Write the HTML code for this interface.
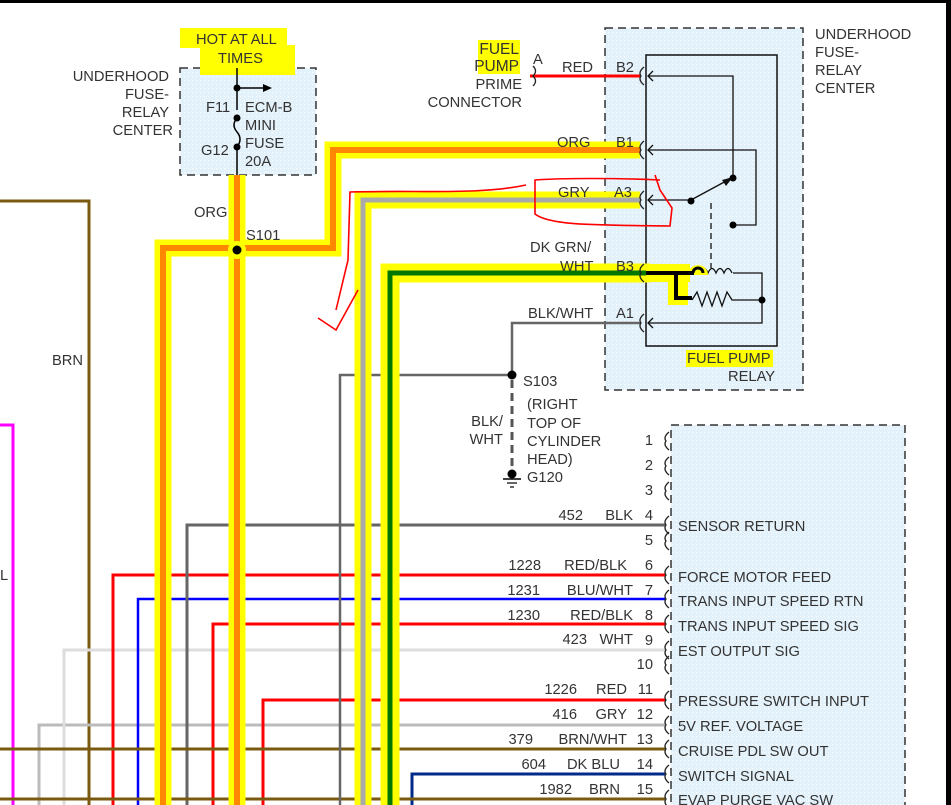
<!DOCTYPE html>
<html><head><meta charset="utf-8"><style>
html,body{margin:0;padding:0;background:#fff}
svg{display:block}
text{font-family:"Liberation Sans",sans-serif;font-size:14.7px;fill:#333}
</style></head><body>
<svg width="951" height="805" viewBox="0 0 951 805" xmlns="http://www.w3.org/2000/svg">
<defs>
<pattern id="dots" width="4" height="4" patternUnits="userSpaceOnUse"><rect width="4" height="4" fill="#e3f1fa"/><rect width="1" height="1" fill="#fff"/></pattern>
</defs>
<rect x="0" y="0" width="951" height="3" fill="#000"/>
<rect x="946" y="0" width="5" height="805" fill="#000"/>

<rect x="180" y="68" width="136" height="107" fill="url(#dots)" stroke="#333" stroke-dasharray="8,5" stroke-width="1.5"/>
<rect x="605" y="28" width="198" height="362" fill="url(#dots)" stroke="#333" stroke-dasharray="8,5" stroke-width="1.5"/>
<rect x="671" y="425" width="234" height="390" fill="url(#dots)" stroke="#333" stroke-dasharray="8,5" stroke-width="1.5"/>
<rect x="646" y="55" width="131" height="291" fill="none" stroke="#111" stroke-width="1.5"/>

<rect x="180" y="28" width="107" height="20" fill="#ff0"/>
<rect x="200" y="45" width="95" height="30" fill="#ff0"/>
<rect x="478" y="40" width="42" height="34" fill="#ff0"/>
<rect x="686" y="350" width="87" height="17" fill="#ff0"/>

<polyline points="0,201 89,201 89,805" fill="none" stroke="#7a5a10" stroke-width="3"/>
<polyline points="0,425 13,425 13,805" fill="none" stroke="#f0f" stroke-width="3"/>

<polyline points="39,805 39,725 665,725" fill="none" stroke="#bbb" stroke-width="3"/>
<polyline points="64,805 64,650 665,650" fill="none" stroke="#ddd" stroke-width="3"/>
<polyline points="113,805 113,575 665,575" fill="none" stroke="#f00" stroke-width="3"/>
<polyline points="138,805 138,599 665,599" fill="none" stroke="#00f" stroke-width="2.5"/>
<polyline points="187,805 187,525 665,525" fill="none" stroke="#666" stroke-width="3"/>
<polyline points="213,805 213,624 665,624" fill="none" stroke="#f00" stroke-width="3"/>
<polyline points="263,805 263,700 665,700" fill="none" stroke="#f00" stroke-width="3"/>
<polyline points="0,749 665,749" fill="none" stroke="#7a5a10" stroke-width="3"/>
<polyline points="412,805 412,774 665,774" fill="none" stroke="#002a8a" stroke-width="3"/>
<polyline points="0,799 665,799" fill="none" stroke="#7a5a10" stroke-width="3"/>

<polyline points="340,805 340,375 512,375" fill="none" stroke="#666" stroke-width="2.5"/>
<polyline points="512,375 512,323 640,323" fill="none" stroke="#666" stroke-width="2.5"/>
<line x1="512" y1="380" x2="512" y2="472" stroke="#555" stroke-width="3" stroke-dasharray="8,5"/>
<circle cx="512" cy="375" r="4.5" fill="#000"/>
<circle cx="512" cy="474" r="4.5" fill="#000"/>
<line x1="503" y1="479" x2="521" y2="479" stroke="#000" stroke-width="1.5"/>
<line x1="507" y1="483" x2="517" y2="483" stroke="#000" stroke-width="1.2"/>
<line x1="510" y1="487" x2="514" y2="487" stroke="#000" stroke-width="1.2"/>

<g fill="none" stroke-linejoin="miter">
<polyline points="163,805 163,248 333,248 333,150 640,150" stroke="#ff0" stroke-width="17"/>
<line x1="237" y1="175" x2="237" y2="805" stroke="#ff0" stroke-width="17"/>
<polyline points="363,805 363,200 640,200" stroke="#ff0" stroke-width="17"/>
<polyline points="390,805 390,273 650,273" stroke="#ff0" stroke-width="19"/>
<polyline points="163,805 163,248 333,248 333,150 640,150" stroke="#f80" stroke-width="6"/>
<line x1="237" y1="175" x2="237" y2="805" stroke="#f80" stroke-width="6"/>
<polyline points="363,805 363,200 640,200" stroke="#aaa" stroke-width="5"/>
<polyline points="390,805 390,273 646,273" stroke="#070" stroke-width="5"/>
</g>
<circle cx="237" cy="250" r="9" fill="#ff0"/>
<circle cx="237" cy="250" r="4.5" fill="#000"/>
<line x1="530" y1="76" x2="640" y2="76" stroke="#f00" stroke-width="3"/>

<line x1="237" y1="68" x2="237" y2="110" stroke="#000" stroke-width="1.5"/>
<path d="M237,118 q-6,7 0,14 q6,7 0,15" fill="none" stroke="#000" stroke-width="1.5"/>
<line x1="237" y1="147" x2="237" y2="175" stroke="#000" stroke-width="1.5"/>
<line x1="237" y1="88" x2="266" y2="88" stroke="#000" stroke-width="1.5"/>
<polygon points="272,88 263,84 263,92" fill="#000"/>
<circle cx="237" cy="88" r="3.5" fill="#000"/><circle cx="237" cy="118" r="3.5" fill="#000"/><circle cx="237" cy="147" r="3.5" fill="#000"/>

<g fill="none" stroke="#222" stroke-width="1.3">
<path d="M533,66 q5,5 0,10 q5,5 0,10"/>
<path d="M644,67 q-6,5 -3,9 q-3,4 3,9"/>
<path d="M644,141 q-6,5 -3,9 q-3,4 3,9"/>
<path d="M644,191 q-6,5 -3,9 q-3,4 3,9"/>
<path d="M644,264 q-6,5 -3,9 q-3,4 3,9"/>
<path d="M644,314 q-6,5 -3,9 q-3,4 3,9"/>
</g>
<g fill="none" stroke="#222" stroke-width="1.3">
<path d="M669,432 q-6,5 -3,9 q-3,4 3,9"/><path d="M669,457 q-6,5 -3,9 q-3,4 3,9"/><path d="M669,482 q-6,5 -3,9 q-3,4 3,9"/>
<path d="M669,516 q-6,5 -3,9 q-3,4 3,9"/><path d="M669,532 q-6,5 -3,9 q-3,4 3,9"/><path d="M669,566 q-6,5 -3,9 q-3,4 3,9"/>
<path d="M669,590 q-6,5 -3,9 q-3,4 3,9"/><path d="M669,615 q-6,5 -3,9 q-3,4 3,9"/><path d="M669,641 q-6,5 -3,9 q-3,4 3,9"/>
<path d="M669,656 q-6,5 -3,9 q-3,4 3,9"/><path d="M669,691 q-6,5 -3,9 q-3,4 3,9"/><path d="M669,716 q-6,5 -3,9 q-3,4 3,9"/>
<path d="M669,740 q-6,5 -3,9 q-3,4 3,9"/><path d="M669,765 q-6,5 -3,9 q-3,4 3,9"/><path d="M669,790 q-6,5 -3,9 q-3,4 3,9"/>
</g>

<g fill="none" stroke="#111" stroke-width="1.3">
<polyline points="648,76 733,76 733,178"/>
<polyline points="648,150 756,150 756,225 733,225"/>
<line x1="648" y1="200" x2="691" y2="200"/>
<line x1="691" y1="200" x2="728" y2="180"/>
<line x1="711" y1="203" x2="711" y2="268" stroke-dasharray="6,4"/>
<polyline points="648,323 762,323 762,273 733,273"/>
<path d="M700,273 q4,-9 8,0 q4,-9 8,0 q4,-9 8,0 q4,-9 8,0"/>
<polyline points="692,300 697,292 702,306 707,292 712,306 717,292 722,306 727,292 732,300 762,300"/>
<path d="M653,71 l-5,5 l5,5 M653,145 l-5,5 l5,5 M653,195 l-5,5 l5,5 M653,318 l-5,5 l5,5"/>
</g>
<polygon points="733,177 722,180 726,186" fill="#111"/>
<circle cx="733" cy="178" r="3.5" fill="#000"/><circle cx="733" cy="225" r="3.5" fill="#000"/><circle cx="691" cy="201" r="3.5" fill="#000"/>
<circle cx="762" cy="300" r="3.5" fill="#000"/>
<path d="M646,264 h44 v18 h-2 v23 h-20 v-23 h-22 z" fill="#ff0"/>
<path d="M688,275 a10,10 0 0 1 20,0 z" fill="#ff0"/>
<polyline points="646,273 694,273" stroke="#000" stroke-width="4" fill="none"/>
<polyline points="676,273 676,298 692,298" stroke="#000" stroke-width="4" fill="none"/>
<path d="M693,273 a5,5 0 0 1 10,0" fill="none" stroke="#000" stroke-width="3"/>

<g fill="none" stroke="#f00" stroke-width="1.6">
<path d="M526,185 C480,195 420,190 350,192 L348,260 L336,310"/>
<path d="M318,318 L336,330 L358,290"/>
<path d="M660,180 C620,178 560,178 535,180 L535,214 C550,226 600,225 670,226 L672,208 L660,190 L655,175"/>
</g>

<text x="196" y="44">HOT AT ALL</text>
<text x="218" y="63">TIMES</text>
<text x="169" y="81" text-anchor="end">UNDERHOOD</text>
<text x="169" y="99" text-anchor="end">FUSE-</text>
<text x="169" y="117" text-anchor="end">RELAY</text>
<text x="173" y="135" text-anchor="end">CENTER</text>
<text x="206" y="112">F11</text>
<text x="245" y="112">ECM-B</text>
<text x="245" y="130">MINI</text>
<text x="245" y="148">FUSE</text>
<text x="245" y="166">20A</text>
<text x="201" y="155">G12</text>
<text x="194" y="217">ORG</text>
<text x="246" y="240">S101</text>
<text x="52" y="365">BRN</text>
<text x="0" y="580">L</text>
<text x="519" y="54" text-anchor="end" style="font-size:15.5px">FUEL</text>
<text x="519" y="71" text-anchor="end" style="font-size:15.5px">PUMP</text>
<text x="522" y="89" text-anchor="end">PRIME</text>
<text x="522" y="107" text-anchor="end">CONNECTOR</text>
<text x="533" y="64">A</text>
<text x="562" y="72">RED</text>
<text x="616" y="72">B2</text>
<text x="557" y="147">ORG</text>
<text x="616" y="147">B1</text>
<text x="558" y="197">GRY</text>
<text x="614" y="197">A3</text>
<text x="530" y="252">DK GRN/</text>
<text x="560" y="271">WHT</text>
<text x="616" y="271">B3</text>
<text x="528" y="318">BLK/WHT</text>
<text x="616" y="318">A1</text>
<text x="687" y="363">FUEL PUMP</text>
<text x="728" y="381">RELAY</text>
<text x="815" y="39">UNDERHOOD</text>
<text x="815" y="57">FUSE-</text>
<text x="815" y="75">RELAY</text>
<text x="815" y="93">CENTER</text>
<text x="523" y="386">S103</text>
<text x="527" y="409">(RIGHT</text>
<text x="527" y="428">TOP OF</text>
<text x="527" y="446">CYLINDER</text>
<text x="527" y="464">HEAD)</text>
<text x="527" y="482">G120</text>
<text x="503" y="426" text-anchor="end">BLK/</text>
<text x="503" y="444" text-anchor="end">WHT</text>
<g text-anchor="end">
<text x="653" y="445">1</text><text x="653" y="470">2</text><text x="653" y="495">3</text>
<text x="653" y="520">4</text><text x="653" y="545">5</text><text x="653" y="570">6</text>
<text x="653" y="595">7</text><text x="653" y="620">8</text><text x="653" y="645">9</text>
<text x="653" y="669">10</text><text x="653" y="694">11</text><text x="653" y="719">12</text>
<text x="653" y="744">13</text><text x="653" y="769">14</text><text x="653" y="794">15</text>
<text x="583" y="520">452</text><text x="633" y="520">BLK</text>
<text x="541" y="570">1228</text><text x="627" y="570">RED/BLK</text>
<text x="540" y="595">1231</text><text x="633" y="595">BLU/WHT</text>
<text x="540" y="620">1230</text><text x="633" y="620">RED/BLK</text>
<text x="587" y="644">423</text><text x="633" y="644">WHT</text>
<text x="577" y="694">1226</text><text x="627" y="694">RED</text>
<text x="577" y="719">416</text><text x="627" y="719">GRY</text>
<text x="533" y="744">379</text><text x="627" y="744">BRN/WHT</text>
<text x="546" y="769">604</text><text x="620" y="769">DK BLU</text>
<text x="572" y="794">1982</text><text x="620" y="794">BRN</text>
</g>
<text x="678" y="531">SENSOR RETURN</text>
<text x="678" y="582">FORCE MOTOR FEED</text>
<text x="678" y="606">TRANS INPUT SPEED RTN</text>
<text x="678" y="631">TRANS INPUT SPEED SIG</text>
<text x="678" y="656">EST OUTPUT SIG</text>
<text x="678" y="706">PRESSURE SWITCH INPUT</text>
<text x="678" y="731">5V REF. VOLTAGE</text>
<text x="678" y="756">CRUISE PDL SW OUT</text>
<text x="678" y="781">SWITCH SIGNAL</text>
<text x="678" y="805">EVAP PURGE VAC SW</text>
</svg>
</body></html>
